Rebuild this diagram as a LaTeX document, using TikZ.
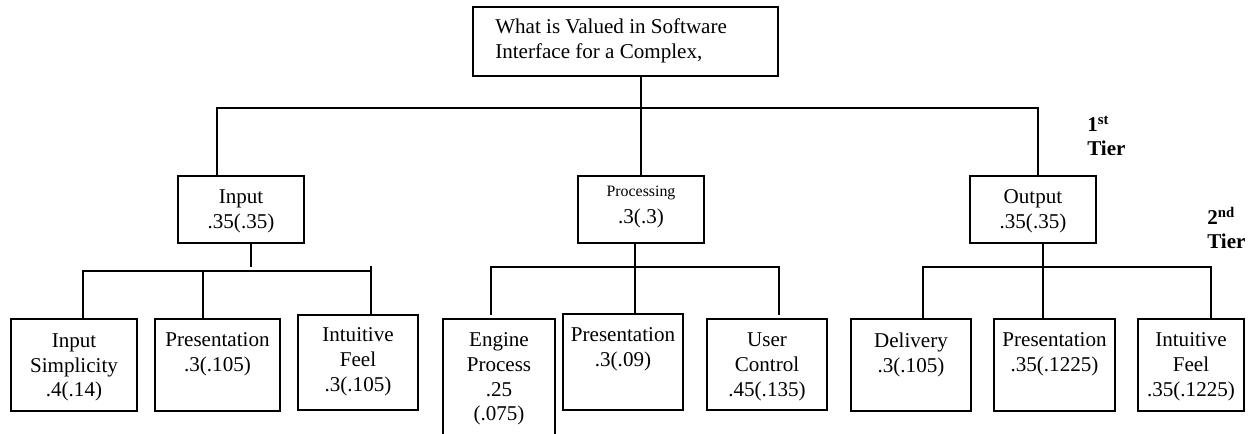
\documentclass[tikz,border=0pt]{standalone}
\usepackage{fontspec}
\setmainfont{Liberation Serif}
\begin{document}
\begin{tikzpicture}[x=0.75pt,y=-0.75pt,
  box/.style={draw, line width=1.3pt, inner sep=0pt},
  txt/.style={inner sep=0pt, align=center, anchor=north, font=\fontsize{15.8}{18.5}\selectfont, execute at begin node=\strut},
  ln/.style={line width=1.3pt}]
\useasboundingbox (0,0) rectangle (1254,434);
% boxes
\node[box, minimum width=228.75pt, minimum height=51.75pt] (top) at (625.5,41.5) {};
\node[box, minimum width=94.5pt, minimum height=50.25pt] (inp) at (241,209.5) {};
\node[box, minimum width=94.5pt, minimum height=50.25pt] (proc) at (641,209.5) {};
\node[box, minimum width=94.5pt, minimum height=50.25pt] (out) at (1033,209.5) {};
\node[box, minimum width=94.5pt, minimum height=69pt] (is) at (74,365) {};
\node[box, minimum width=93.75pt, minimum height=69pt] (pr1) at (217.5,365) {};
\node[box, minimum width=90pt, minimum height=71.25pt] (if1) at (358,362.5) {};
\node[box, minimum width=84pt, minimum height=90.75pt] (ep) at (499,379.5) {};
\node[box, minimum width=90pt, minimum height=72pt] (pr2) at (623,362) {};
\node[box, minimum width=90pt, minimum height=68.25pt] (uc) at (767,364.5) {};
\node[box, minimum width=90pt, minimum height=69pt] (dl) at (911,365) {};
\node[box, minimum width=90.75pt, minimum height=69pt] (pr3) at (1054.5,365) {};
\node[box, minimum width=79.5pt, minimum height=69pt] (if3) at (1191,365) {};
% texts
\node[txt, align=left, anchor=north west] (ttop) at (495,18.7) {What is Valued in Software\\Interface for a Complex,};
\node[txt] (tinp) at (241,189.7) {Input\\.35(.35)};
\node[txt] (tproc) at (641,185.7) {{\fontsize{11.9}{14}\selectfont Processing}\\[1.5pt].3(.3)};
\node[txt] (tout) at (1033,189.7) {Output\\.35(.35)};
\node[txt] (tis) at (74,333.4) {Input\\Simplicity\\.4(.14)};
\node[txt] (tpr1) at (217.5,332.7) {Presentation\\.3(.105)};
\node[txt] (tif1) at (358,327.7) {Intuitive\\Feel\\.3(.105)};
\node[txt] (tep) at (499,332.7) {Engine\\Process\\.25\\(.075)};
\node[txt] (tpr2) at (623,327.7) {Presentation\\.3(.09)};
\node[txt] (tuc) at (767,332.7) {User\\Control\\.45(.135)};
\node[txt] (tdl) at (911,332.7) {Delivery\\.3(.105)};
\node[txt] (tpr3) at (1054.5,332.7) {Presentation\\.35(.1225)};
\node[txt] (tif3) at (1191,332.7) {Intuitive\\Feel\\.35(.1225)};
\node[txt, align=left, anchor=north west] (tier1) at (1087,115.7) {\textbf{1\textsuperscript{st}}\\\textbf{Tier}};
\node[txt, align=left, anchor=north west] (tier2) at (1207,206.7) {\textbf{2\textsuperscript{nd}}\\\textbf{Tier}};
% first tier connectors
\coordinate (b1l) at (217,108);
\coordinate (b1r) at (1038,108);
\draw[ln] (top.south -| proc.north) -- (proc.north);
\draw[ln] (b1l |- inp.north) -- (b1l) -- (b1r) -- (b1r |- out.north);
% input subtree
\coordinate (s1) at (251,267);
\coordinate (b2l) at (83,271);
\coordinate (b2m) at (203,271);
\coordinate (b2r) at (371,271);
\coordinate (b2rt) at (371,266);
\draw[ln] (inp.south -| s1) -- (s1);
\draw[ln] (b2l |- is.north) -- (b2l) -- (b2r);
\draw[ln] (b2m) -- (b2m |- pr1.north);
\draw[ln] (b2rt) -- (b2rt |- if1.north);
% processing subtree
\coordinate (s2) at (635,267);
\coordinate (b3l) at (491,267);
\coordinate (b3r) at (779,267);
\coordinate (e3l) at (491,315);
\coordinate (e3r) at (779,315);
\draw[ln] (proc.south -| s2) -- (s2) -- (s2 |- pr2.north);
\draw[ln] (e3l) -- (b3l) -- (b3r) -- (e3r);
% output subtree
\coordinate (s3) at (1043,267);
\coordinate (b4l) at (923,267);
\coordinate (b4r) at (1211,267);
\draw[ln] (out.south -| s3) -- (s3) -- (s3 |- pr3.north);
\draw[ln] (b4l |- dl.north) -- (b4l) -- (b4r) -- (b4r |- if3.north);
\end{tikzpicture}
\end{document}
